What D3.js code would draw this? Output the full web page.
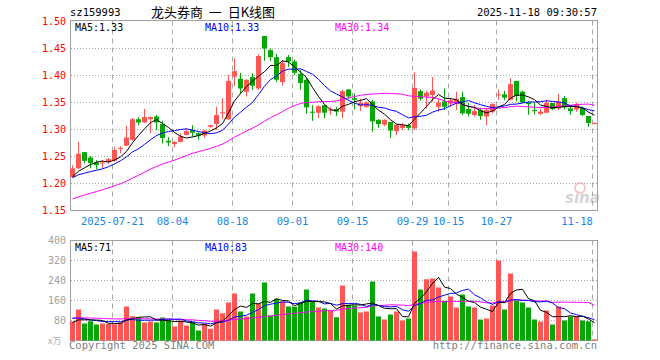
<!DOCTYPE html>
<html>
<head>
<meta charset="utf-8">
<script src="https://cdn.jsdelivr.net/npm/d3@7/dist/d3.min.js"></script>
<style>
  body { margin: 0; background: #fff; }
  svg { display: block; }
  .pre { white-space: pre; }
</style>
</head>
<body>
<svg id="chart" width="660" height="360"></svg>
<script>
// trading days in the window (2025)
const dates = [
  '07-10', '07-11', '07-14', '07-15', '07-16', '07-17', '07-18', '07-21', '07-22', '07-23',
  '07-24', '07-25', '07-28', '07-29', '07-30', '07-31', '08-01', '08-04', '08-05', '08-06',
  '08-07', '08-08', '08-11', '08-12', '08-13', '08-14', '08-15', '08-18', '08-19', '08-20',
  '08-21', '08-22', '08-25', '08-26', '08-27', '08-28', '08-29', '09-01', '09-02', '09-03',
  '09-04', '09-05', '09-08', '09-09', '09-10', '09-11', '09-12', '09-15', '09-16', '09-17',
  '09-18', '09-19', '09-22', '09-23', '09-24', '09-25', '09-26', '09-29', '09-30', '10-09',
  '10-10', '10-13', '10-14', '10-15', '10-16', '10-17', '10-20', '10-21', '10-22', '10-23',
  '10-24', '10-27', '10-28', '10-29', '10-30', '10-31', '11-03', '11-04', '11-05', '11-06',
  '11-07', '11-10', '11-11', '11-12', '11-13', '11-14', '11-17', '11-18',
];
const open = [
  1.212, 1.228, 1.258, 1.248, 1.239, 1.237, 1.240, 1.242, 1.264, 1.270,
  1.281, 1.319, 1.313, 1.319, 1.324, 1.310, 1.279, 1.273, 1.277, 1.290,
  1.299, 1.293, 1.289, 1.305, 1.310, 1.330, 1.319, 1.398, 1.394, 1.370,
  1.397, 1.376, 1.473, 1.447, 1.434, 1.388, 1.434, 1.426, 1.403, 1.392,
  1.333, 1.331, 1.345, 1.335, 1.338, 1.333, 1.374, 1.358, 1.344, 1.342,
  1.352, 1.318, 1.309, 1.314, 1.297, 1.303, 1.308, 1.302, 1.371, 1.361,
  1.364, 1.342, 1.352, 1.348, 1.349, 1.360, 1.338, 1.327, 1.336, 1.324,
  1.333, 1.364, 1.365, 1.355, 1.390, 1.370, 1.350, 1.336, 1.329, 1.331,
  1.349, 1.339, 1.358, 1.339, 1.337, 1.340, 1.325, 1.311,
];
const high = [
  1.234, 1.277, 1.258, 1.251, 1.243, 1.243, 1.247, 1.268, 1.269, 1.307,
  1.321, 1.323, 1.338, 1.324, 1.327, 1.316, 1.286, 1.278, 1.293, 1.302,
  1.308, 1.295, 1.299, 1.309, 1.342, 1.358, 1.401, 1.432, 1.405, 1.393,
  1.404, 1.439, 1.473, 1.450, 1.440, 1.429, 1.438, 1.429, 1.410, 1.395,
  1.345, 1.345, 1.346, 1.342, 1.342, 1.374, 1.375, 1.367, 1.357, 1.352,
  1.355, 1.319, 1.319, 1.314, 1.309, 1.312, 1.311, 1.406, 1.374, 1.372,
  1.397, 1.357, 1.376, 1.358, 1.370, 1.370, 1.349, 1.345, 1.340, 1.340,
  1.349, 1.374, 1.372, 1.395, 1.390, 1.372, 1.352, 1.350, 1.339, 1.355,
  1.349, 1.366, 1.362, 1.342, 1.350, 1.342, 1.325, 1.313,
];
const low = [
  1.211, 1.227, 1.237, 1.228, 1.226, 1.228, 1.237, 1.240, 1.256, 1.270,
  1.279, 1.308, 1.312, 1.293, 1.299, 1.274, 1.269, 1.267, 1.276, 1.289,
  1.287, 1.281, 1.285, 1.303, 1.299, 1.319, 1.318, 1.380, 1.367, 1.361,
  1.373, 1.373, 1.427, 1.427, 1.388, 1.381, 1.416, 1.401, 1.373, 1.329,
  1.316, 1.321, 1.321, 1.327, 1.325, 1.321, 1.356, 1.337, 1.334, 1.340,
  1.296, 1.303, 1.306, 1.284, 1.290, 1.299, 1.299, 1.300, 1.353, 1.339,
  1.352, 1.333, 1.336, 1.342, 1.336, 1.327, 1.324, 1.324, 1.318, 1.308,
  1.330, 1.355, 1.354, 1.354, 1.352, 1.349, 1.327, 1.328, 1.327, 1.331,
  1.336, 1.336, 1.337, 1.327, 1.333, 1.325, 1.305, 1.310,
];
const close = [
  1.228, 1.255, 1.242, 1.238, 1.234, 1.239, 1.245, 1.262, 1.266, 1.285,
  1.319, 1.313, 1.323, 1.323, 1.313, 1.284, 1.276, 1.277, 1.287, 1.297,
  1.294, 1.289, 1.298, 1.308, 1.327, 1.332, 1.390, 1.408, 1.376, 1.392,
  1.381, 1.436, 1.450, 1.434, 1.392, 1.423, 1.426, 1.405, 1.386, 1.341,
  1.331, 1.343, 1.331, 1.337, 1.333, 1.371, 1.361, 1.355, 1.349, 1.350,
  1.315, 1.310, 1.318, 1.298, 1.309, 1.308, 1.303, 1.377, 1.357, 1.368,
  1.372, 1.350, 1.342, 1.354, 1.357, 1.330, 1.329, 1.334, 1.325, 1.336,
  1.347, 1.365, 1.359, 1.384, 1.362, 1.350, 1.347, 1.334, 1.333, 1.349,
  1.338, 1.352, 1.341, 1.334, 1.347, 1.327, 1.312, 1.312,
];
// volume, 万手
const volume = [
  76, 124, 68, 77, 64, 68, 67, 65, 73, 136,
  97, 93, 72, 76, 72, 92, 83, 56, 80, 60,
  73, 40, 67, 47, 124, 109, 152, 188, 116, 96,
  188, 147, 232, 100, 167, 156, 136, 135, 151, 204,
  156, 132, 128, 120, 93, 220, 143, 140, 112, 116,
  236, 96, 84, 104, 116, 80, 88, 356, 204, 245,
  248, 212, 159, 176, 132, 184, 136, 132, 84, 88,
  140, 320, 124, 268, 160, 152, 132, 84, 76, 120,
  64, 136, 80, 96, 98, 80, 77, 4,
];
// estimated sessions before the window, only used to seed the moving averages
const priorClose = [
  1.135, 1.138, 1.140, 1.142, 1.139, 1.143, 1.146, 1.148, 1.145, 1.150,
  1.153, 1.155, 1.152, 1.158, 1.160, 1.162, 1.165, 1.163, 1.168, 1.170,
  1.200, 1.212, 1.210, 1.210, 1.212, 1.205, 1.210, 1.208, 1.212,
];
const priorVolume = [
  85, 102, 78, 95, 88, 110, 76, 92, 84, 98,
  105, 80, 90, 87, 96, 82, 100, 86, 91, 84,
  118, 96, 124, 88, 104, 72, 66, 78, 68,
];
const priceTicks = [1.15, 1.20, 1.25, 1.30, 1.35, 1.40, 1.45, 1.50];
const volumeTicks = [80, 160, 240, 320, 400];
const tickDates = ['07-21', '08-04', '08-18', '09-01', '09-15', '09-29', '10-15', '10-27', '11-18'];
const maPeriods = [5, 10, 30];

const RED = '#ff5555';
const GREEN = '#06a606';
const GRID = '#a8a8a8';
const maColors = ['#000000', '#0000ff', '#ff00ff'];
const MONO = '"DejaVu Sans Mono", monospace';

const left = 70;
const right = 598;

/** moving average of values, seeded by the sessions before the window */
function movingAvg(values, prior, n) {
  const all = prior.concat(values);
  return values.map((v, i) => d3.mean(all.slice(prior.length + i - n + 1, prior.length + i + 1)));
}

const svg = d3.select('#chart');

const x = d3.scaleBand()
    .domain(d3.range(dates.length))
    .range([left, right]);
const barW = x.step() - 1;
const cx = (i) => x(i) + barW / 2;

const yP = d3.scaleLinear().domain([1.15, 1.50]).range([210.5, 21.5]);
const yV = d3.scaleLinear().domain([0, 400]).range([340.5, 240.5]);

const isUp = (i) => close[i] >= open[i];

// header -----------------------------------------------------------
svg.append('text')
    .attr('x', left).attr('y', 16)
    .attr('font-family', MONO).attr('font-size', 10.5)
    .text('sz159993');
svg.append('text')
    .attr('class', 'pre')
    .attr('x', 151).attr('y', 17)
    .attr('font-family', '"Noto Sans CJK SC", sans-serif').attr('font-size', 13)
    .text('龙头券商  一  日K线图');
svg.append('text')
    .attr('x', right - 1).attr('y', 16)
    .attr('text-anchor', 'end')
    .attr('font-family', MONO).attr('font-size', 10.5)
    .text('2025-11-18 09:30:57');

// watermark
const wm = svg.append('g').attr('fill', '#d4d4d4');
wm.append('text')
    .attr('x', 565).attr('y', 203)
    .attr('font-family', '"DejaVu Sans", sans-serif')
    .attr('font-size', 15).attr('font-weight', 'bold').attr('font-style', 'italic')
    .text('sina');
wm.append('circle')
    .attr('cx', 580).attr('cy', 188).attr('r', 5)
    .attr('fill', 'none').attr('stroke', '#f0c8c8').attr('stroke-width', 2);

// panels -----------------------------------------------------------
function drawPanel(y, top, bottom, gridTicks, tickFill, tickFmt) {
  const g = svg.append('g');
  g.selectAll('line.h')
      .data(gridTicks)
      .join('line')
      .attr('x1', left + 1).attr('x2', right - 1)
      .attr('y1', (d) => y(d)).attr('y2', (d) => y(d))
      .attr('stroke', GRID).attr('stroke-dasharray', '1,2');
  g.selectAll('line.v')
      .data(tickDates.map((d) => dates.indexOf(d)))
      .join('line')
      .attr('x1', (i) => x(i) + 0.5).attr('x2', (i) => x(i) + 0.5)
      .attr('y1', top).attr('y2', bottom)
      .attr('stroke', GRID).attr('stroke-dasharray', '5,4');
  g.append('rect')
      .attr('x', left + 0.5).attr('y', top)
      .attr('width', right - left - 1).attr('height', bottom - top)
      .attr('fill', 'none').attr('stroke', '#a0a0a0');
  g.selectAll('text')
      .data(tickFmt.ticks)
      .join('text')
      .attr('x', 66).attr('y', (d) => y(d))
      .attr('dy', '0.35em')
      .attr('text-anchor', 'end')
      .attr('font-family', MONO).attr('font-size', 10)
      .attr('fill', tickFill)
      .text(tickFmt.fmt);
}

drawPanel(yP, 20.5, 210.5, priceTicks.slice(1, -1), '#ff0000',
    {ticks: priceTicks, fmt: (d) => d.toFixed(2)});
drawPanel(yV, 240.5, 340.5, volumeTicks.slice(0, -1), '#a0a0a0',
    {ticks: volumeTicks, fmt: (d) => d});

// date labels
svg.append('g')
    .selectAll('text')
    .data(tickDates)
    .join('text')
    .attr('x', (d) => Math.min(x(dates.indexOf(d)) + 0.5, right - 21))
    .attr('y', 224.5)
    .attr('text-anchor', 'middle')
    .attr('font-family', MONO).attr('font-size', 10.5)
    .attr('fill', '#1a86e8')
    .text((d, k) => k === 0 ? '2025-' + d : d);

// candles
const candles = svg.append('g')
    .selectAll('g')
    .data(d3.range(dates.length))
    .join('g')
    .attr('fill', (i) => isUp(i) ? RED : GREEN)
    .attr('stroke', (i) => isUp(i) ? RED : GREEN);
candles.append('line')
    .attr('x1', (i) => Math.floor(cx(i)) + 0.5).attr('x2', (i) => Math.floor(cx(i)) + 0.5)
    .attr('y1', (i) => yP(high[i])).attr('y2', (i) => yP(low[i]));
candles.append('rect')
    .attr('stroke', 'none')
    .attr('x', (i) => x(i))
    .attr('width', barW)
    .attr('y', (i) => yP(Math.max(open[i], close[i])))
    .attr('height', (i) => Math.max(1, Math.abs(yP(open[i]) - yP(close[i]))));

// volume bars
svg.append('g')
    .selectAll('rect')
    .data(d3.range(dates.length))
    .join('rect')
    .attr('x', (i) => x(i))
    .attr('width', barW)
    .attr('y', (i) => yV(volume[i]))
    .attr('height', (i) => yV(0) - yV(volume[i]))
    .attr('fill', (i) => isUp(i) ? RED : GREEN);

// moving averages
const priceMA = maPeriods.map((n) => movingAvg(close, priorClose, n));
const volMA = maPeriods.map((n) => movingAvg(volume, priorVolume, n));

function drawLines(series, y) {
  const line = d3.line()
      .x((d, i) => cx(i))
      .y((d) => y(d));
  svg.append('g')
      .attr('fill', 'none')
      .attr('stroke-width', 1)
      .selectAll('path')
      .data(series.slice().reverse())
      .join('path')
      .attr('stroke', (d, k) => maColors[series.length - 1 - k])
      .attr('d', line);
}
drawLines(priceMA, yP);
drawLines(volMA, yV);

// legends
function drawLegend(series, yPos, fmt) {
  svg.append('g')
      .attr('font-family', MONO).attr('font-size', 10)
      .selectAll('text')
      .data(series)
      .join('text')
      .attr('x', (d, k) => 75 + k * 130)
      .attr('y', yPos)
      .attr('fill', (d, k) => maColors[k])
      .text((d, k) => `MA${maPeriods[k]}:${fmt(d[d.length - 1])}`);
}
drawLegend(priceMA, 30.5, (v) => v.toFixed(2));
drawLegend(volMA, 250.5, (v) => Math.round(v));

// footer
svg.append('text')
    .attr('x', 48).attr('y', 344)
    .attr('font-family', '"Noto Sans CJK SC", sans-serif').attr('font-size', 9)
    .attr('fill', '#b0b0b0')
    .text('x万');
svg.append('text')
    .attr('x', left - 1).attr('y', 349)
    .attr('font-family', MONO).attr('font-size', 10.5)
    .attr('fill', '#808080')
    .text('Copyright 2025 SINA.COM');
svg.append('text')
    .attr('x', right - 1).attr('y', 349)
    .attr('text-anchor', 'end')
    .attr('font-family', MONO).attr('font-size', 10.5)
    .attr('fill', '#808080')
    .text('http://finance.sina.com.cn');
</script>
</body>
</html>
